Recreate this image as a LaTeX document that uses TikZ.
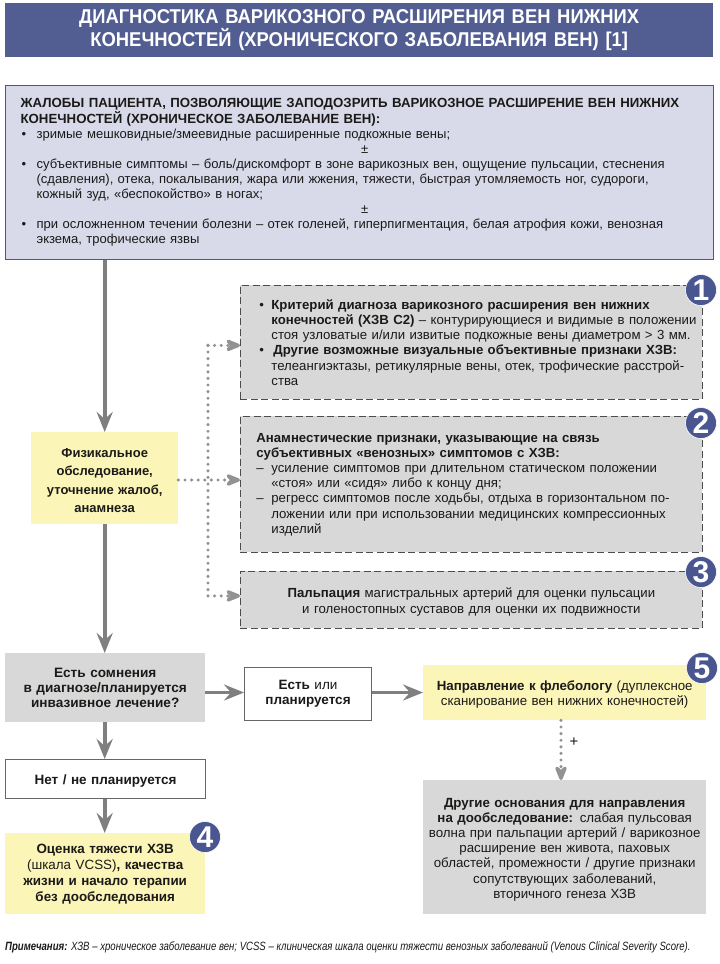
\documentclass[tikz,border=0pt]{standalone}
\usepackage{fontspec}
\setmainfont{Liberation Sans}
\newfontfamily\headf[FakeStretch=0.92]{Liberation Sans}
\newfontfamily\notef[FakeStretch=0.80]{Liberation Sans}
\usetikzlibrary{arrows.meta,calc}
\definecolor{titleblue}{HTML}{525E92}
\definecolor{badgeblue}{HTML}{4A5690}
\definecolor{paleblue}{HTML}{D8DAEA}
\definecolor{paleyellow}{HTML}{FBF6B8}
\definecolor{panelgrey}{HTML}{D8D8D8}
\definecolor{linegrey}{HTML}{7F7F7F}
\definecolor{dotgrey}{HTML}{929292}
\definecolor{inkdark}{HTML}{1C1A18}
\newcommand{\bul}{\makebox[16pt][l]{\hspace{1pt}•}}
\newcommand{\fs}[2]{\fontsize{#1}{#2}\selectfont}
% left offsets inside the dashed panels
\newcommand{\pnlead}{\hspace*{8pt}}
\newcommand{\pnhang}{\hspace*{23pt}}
\newcommand{\pndash}{\pnlead\makebox[15pt][l]{–}}
\newcommand{\pnbul}{\hspace*{8pt}\makebox[15pt][l]{\hspace{3pt}•}}
% taller first line pushes a block of text down
\newcommand{\lowered}{\rule{0pt}{14pt}}
\tikzset{
  boxbase/.style={anchor=north west,rectangle,text=inkdark,inner ysep=0pt,font=\fs{13.2}{15.2}},
  titlebox/.style={boxbase,fill=titleblue,text=white,align=center,inner xsep=0pt,text width=708pt,minimum height=54pt,
    font=\headf\bfseries\fs{20}{23}},
  complaintbox/.style={boxbase,fill=paleblue,draw=black!65,line width=1.2pt,align=left,inner xsep=15pt,text width=678pt,minimum height=174pt,font=\fs{13.05}{15.1}},
  dashbox/.style={boxbase,fill=panelgrey,draw=black!70,line width=.8pt,dash pattern=on 7pt off 3.5pt,align=left,inner xsep=8pt,text width=446pt},
  yellowbox/.style={boxbase,fill=paleyellow,align=center,inner xsep=0pt},
  greybox/.style={boxbase,fill=panelgrey,align=center,inner xsep=0pt},
  whitebox/.style={boxbase,fill=white,draw=black!60,line width=1pt,align=center,inner xsep=0pt},
  badge/.style={circle,fill=badgeblue,draw=white,line width=.6pt,text=white,minimum size=31pt,inner sep=0pt,
    font=\bfseries\fs{30}{30}},
  mainflow/.style={draw=linegrey,line width=3.6pt,-{Stealth[length=20pt,width=16pt,inset=7pt]}},
  dotflow/.style={draw=dotgrey,line width=3.4pt,line cap=round,dash pattern=on 0pt off 6.6pt,-{Stealth[length=20pt,width=16pt,inset=7pt,round=false]}},
  dotline/.style={draw=dotgrey,line width=3.4pt,line cap=round,dash pattern=on 0pt off 6.6pt},
}
\begin{document}
\begin{tikzpicture}[x=1pt,y=-1pt]
\useasboundingbox[fill=white] (0,0) rectangle (720,964);

\node[titlebox] (title) at (5,3) {ДИАГНОСТИКА ВАРИКОЗНОГО РАСШИРЕНИЯ ВЕН НИЖНИХ\\КОНЕЧНОСТЕЙ (ХРОНИЧЕСКОГО ЗАБОЛЕВАНИЯ ВЕН) [1]};

\node[complaintbox] (complaints) at (5,85) {{\fontsize{13.25}{15.1}\selectfont\textbf{ЖАЛОБЫ ПАЦИЕНТА, ПОЗВОЛЯЮЩИЕ ЗАПОДОЗРИТЬ ВАРИКОЗНОЕ РАСШИРЕНИЕ ВЕН НИЖНИХ}}\\
{\fontsize{13.25}{15.1}\selectfont\textbf{КОНЕЧНОСТЕЙ (ХРОНИЧЕСКОЕ ЗАБОЛЕВАНИЕ ВЕН):}}\\
\bul зримые мешковидные/змеевидные расширенные подкожные вены;\\
\makebox[688pt]{±}\\
\bul субъективные симптомы – боль/дискомфорт в зоне варикозных вен, ощущение пульсации, стеснения\\
\hspace*{16pt}(сдавления), отека, покалывания, жара или жжения, тяжести, быстрая утомляемость ног, судороги,\\
\hspace*{16pt}кожный зуд, «беспокойство» в ногах;\\
\makebox[688pt]{±}\\
\bul при осложненном течении болезни – отек голеней, гиперпигментация, белая атрофия кожи, венозная\\
\hspace*{16pt}экзема, трофические язвы};

\node[dashbox,minimum height=114pt] (crit) at (240,285) {\pnbul\textbf{Критерий диагноза варикозного расширения вен нижних}\\
\mbox{\pnhang\textbf{конечностей (ХЗВ С2)} – контурирующиеся и видимые в положении}\\
\pnhang стоя узловатые и/или извитые подкожные вены диаметром > 3 мм.\\
\pnbul\hspace*{2pt}\textbf{Другие возможные визуальные объективные признаки ХЗВ:}\\
\pnhang телеангиэктазы, ретикулярные вены, отек, трофические расстрой-\\
\pnhang ства};

\node[dashbox,minimum height=136pt] (anam) at (240,416) {\pnlead\textbf{Анамнестические признаки, указывающие на связь}\\
\pnlead\textbf{субъективных «венозных» симптомов с ХЗВ:}\\
\pndash усиление симптомов при длительном статическом положении\\
\pnhang «стоя» или «сидя» либо к концу дня;\\
\pndash регресс симптомов после ходьбы, отдыха в горизонтальном по-\\
\pnhang ложении или при использовании медицинских компрессионных\\
\pnhang изделий};

\node[dashbox,minimum height=57pt,align=center,font=\fs{13.2}{16}] (palp) at (240,571) {\lowered\textbf{Пальпация} магистральных артерий для оценки пульсации\\и голеностопных суставов для оценки их подвижности};

\node[yellowbox,text width=147pt,minimum height=92pt,font=\fs{13}{18.4}] (exam) at (31,432) {\lowered\textbf{Физикальное}\\\textbf{обследование,}\\\textbf{уточнение жалоб,}\\\textbf{анамнеза}};

\node[greybox,text width=200pt,minimum height=69pt,font=\fs{13.6}{15.2}] (doubt) at (5,653) {\textbf{Есть сомнения}\\\textbf{в диагнозе/планируется}\\\textbf{инвазивное лечение?}};
\node[whitebox,text width=127pt,minimum height=53pt,font=\fs{13.5}{15.4}] (yes) at (244,667) {\textbf{Есть} или\\\textbf{планируется}};
\node[yellowbox,text width=283pt,minimum height=55pt,font=\fs{13.3}{15.2}] (refer) at (423,665) {\lowered\textbf{Направление к флебологу} (дуплексное\\сканирование вен нижних конечностей)};
\node[whitebox,text width=200pt,minimum height=39pt,font=\fs{13.5}{15.2}] (no) at (5,759) {\lowered\textbf{Нет / не планируется}};
\node[yellowbox,text width=200pt,minimum height=81pt,font=\fs{13.4}{16}] (assess) at (5,833) {\textbf{Оценка тяжести ХЗВ}\\(шкала VCSS)\textbf{, качества}\\\textbf{жизни и начало терапии}\\\textbf{без дообследования}};
\node[greybox,text width=283pt,minimum height=134pt,font=\fs{13.3}{15.1}] (other) at (423,780) {\lowered\textbf{Другие основания для направления}\\\textbf{на дообследование:} слабая пульсовая\\волна при пальпации артерий / варикозное\\расширение вен живота, паховых\\областей, промежности / другие признаки\\сопутствующих заболеваний,\\вторичного генеза ХЗВ};

% solid flow arrows
\draw[mainflow] (complaints.south -| exam.north) -- (exam.north);
\draw[mainflow] (exam.south) -- (doubt.north -| exam.south);
\draw[mainflow] (doubt.south -| exam.south) -- (no.north -| exam.south);
\draw[mainflow] (no.south -| exam.south) -- (assess.north -| exam.south);
\draw[mainflow] ([yshift=1.5pt]doubt.east |- yes.west) -- ([yshift=1.5pt]yes.west);
\draw[mainflow] ([yshift=1.5pt]yes.east) -- ([yshift=1.5pt]refer.west |- yes.east);

% dotted branches from the examination box
\coordinate (fork) at (208,480);
\draw[dotline] ($(fork |- crit.west)+(0,3)$) -- ($(fork |- palp.west)+(0,-4)$);
\draw[dotflow] (exam.east |- fork) -- (anam.west |- fork);
\draw[dotflow] ($(fork |- crit.west)+(0,3)$) -- ([yshift=-3pt]crit.west);
\draw[dotflow] ($(fork |- palp.west)+(0,-4)$) -- ([yshift=4pt]palp.west);
\draw[dotflow] (refer.south -| 561,0) -- (other.north -| 561,0);
\node[font=\fs{15}{15},text=inkdark,inner sep=0pt] (plus) at (574,742) {+};

\node[badge] (b1) at (701,290) {1};
\node[badge] (b2) at (701,423) {2};
\node[badge] (b3) at (701,572) {3};
\node[badge] (b4) at (205,837) {4};
\node[badge] (b5) at (702,668) {5};

\node[anchor=west,inner sep=0pt,text=inkdark,font=\notef\itshape\fs{12}{14}] (note) at (5,947) {\textbf{Примечания:} ХЗВ – хроническое заболевание вен; VCSS – клиническая шкала оценки тяжести венозных заболеваний (Venous Clinical Severity Score).};
\end{tikzpicture}
\end{document}
